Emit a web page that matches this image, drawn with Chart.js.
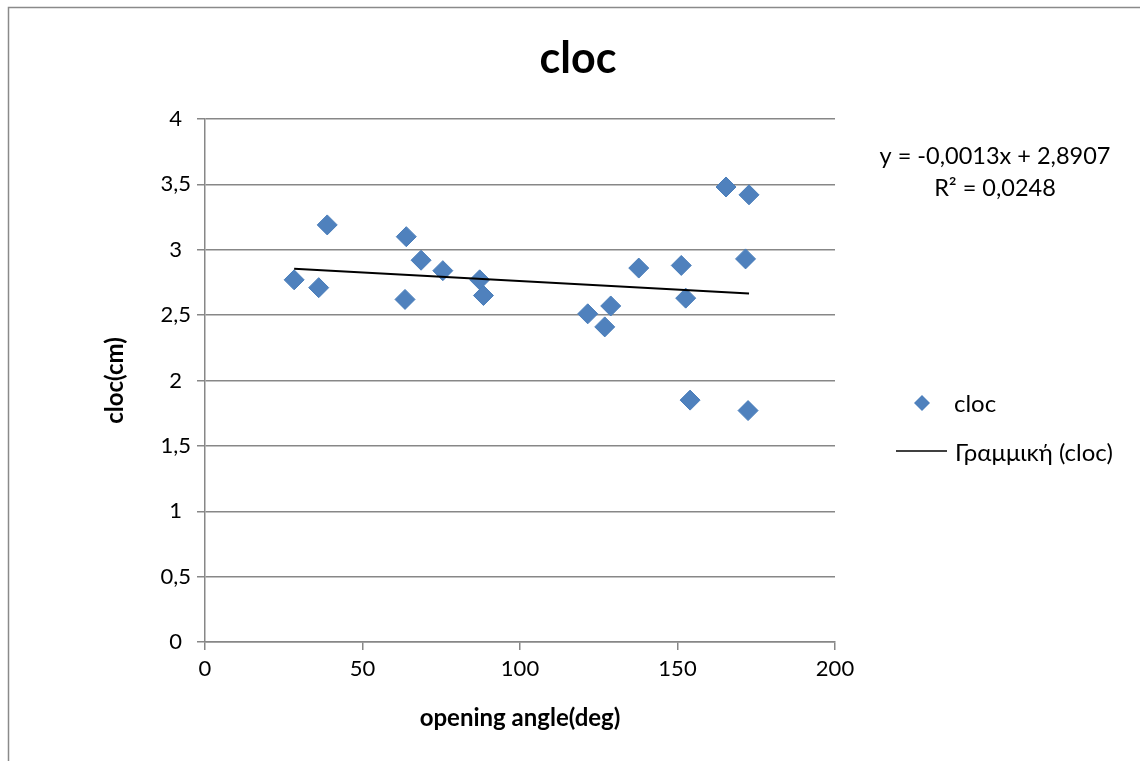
<!DOCTYPE html>
<html>
<head>
<meta charset="utf-8">
<script src="https://cdn.jsdelivr.net/npm/chart.js@4.4.1/dist/chart.umd.min.js"></script>
<style>
  html, body { margin: 0; padding: 0; background: #ffffff; }
  canvas { display: block; }
</style>
</head>
<body>
<canvas id="chart" width="1140" height="761"></canvas>
<script>
// Opening angle (deg) and cloc (cm) for each measurement
const angleDeg = [28.3, 36.1, 38.8, 63.5, 63.9, 68.6, 75.5, 87.2, 88.4, 121.5,
                  126.9, 128.8, 137.7, 151.2, 152.6, 154.0, 165.4, 172.7, 171.6, 172.4];
const clocCm   = [2.77, 2.71, 3.19, 2.62, 3.10, 2.92, 2.84, 2.77, 2.65, 2.51,
                  2.41, 2.57, 2.86, 2.88, 2.63, 1.85, 3.48, 3.42, 2.93, 1.77];

// Linear trend: y = slope * x + intercept
const trendSlope = -0.0013;
const trendIntercept = 2.8907;
const trendR2 = 0.0248;

const xTicks = [0, 50, 100, 150, 200];
const yTicks = [0, 0.5, 1, 1.5, 2, 2.5, 3, 3.5, 4];

const chartTitle = 'cloc';
const xTitle = 'opening angle(deg)';
const yTitle = 'cloc(cm)';
const seriesName = 'cloc';
const trendName = 'Γραμμική (cloc)';

const fmt = v => String(v).replace('.', ',');
const equationText = 'y = ' + fmt(trendSlope) + 'x + ' + fmt(trendIntercept);
const r2Text = 'R² = ' + fmt(trendR2);

const points = angleDeg.map((x, i) => ({ x: x, y: clocCm[i] }));
const xMin = Math.min(...angleDeg);
const xMax = Math.max(...angleDeg);
const trendPoints = [xMin, xMax].map(x => ({ x: x, y: trendSlope * x + trendIntercept }));

const FONT = "Lato, Carlito, 'Open Sans', sans-serif";
const BLUE = '#4F81BD';
const GRID = '#878787';

// Frame, title, trend equation and legend
const decorations = {
  id: 'decorations',
  beforeDraw(chart) {
    const ctx = chart.ctx;
    ctx.save();
    ctx.fillStyle = '#ffffff';
    ctx.fillRect(0, 0, chart.width, chart.height);
    ctx.strokeStyle = '#8a8a8a';
    ctx.lineWidth = 1.5;
    ctx.beginPath();
    ctx.moveTo(8.5, chart.height + 2);
    ctx.lineTo(8.5, 7.5);
    ctx.lineTo(chart.width + 2, 7.5);
    ctx.stroke();
    ctx.restore();
  },
  afterDraw(chart) {
    const ctx = chart.ctx;
    ctx.save();
    ctx.fillStyle = '#000000';
    ctx.textBaseline = 'middle';

    ctx.font = 'bold 43px ' + FONT;
    ctx.textAlign = 'center';
    ctx.fillText(chartTitle, 578, 59);

    ctx.font = '23.5px ' + FONT;
    ctx.fillText(equationText, 995, 156);
    ctx.fillText(r2Text, 995, 188);

    // legend: series marker
    ctx.fillStyle = BLUE;
    ctx.beginPath();
    ctx.moveTo(922, 395);
    ctx.lineTo(930, 403);
    ctx.lineTo(922, 411);
    ctx.lineTo(914, 403);
    ctx.closePath();
    ctx.fill();
    ctx.fillStyle = '#000000';
    ctx.textAlign = 'left';
    ctx.font = '24px ' + FONT;
    ctx.fillText(seriesName, 954, 404);

    // legend: trend line
    ctx.strokeStyle = '#000000';
    ctx.lineWidth = 1.5;
    ctx.beginPath();
    ctx.moveTo(896, 451);
    ctx.lineTo(947, 451);
    ctx.stroke();
    ctx.fillText(trendName, 955, 453);
    ctx.restore();
  }
};

new Chart(document.getElementById('chart'), {
  type: 'scatter',
  data: {
    datasets: [
      {
        label: seriesName,
        data: points,
        pointStyle: 'rectRot',
        pointRadius: 10,
        pointHoverRadius: 10,
        backgroundColor: BLUE,
        borderColor: '#4A7EBB',
        borderWidth: 1,
        order: 1
      },
      {
        label: trendName,
        type: 'line',
        data: trendPoints,
        borderColor: '#000000',
        borderWidth: 2,
        pointRadius: 0,
        fill: false,
        order: 0
      }
    ]
  },
  options: {
    responsive: false,
    animation: false,
    devicePixelRatio: 1,
    layout: { padding: { top: 119, right: 305, left: 0, bottom: 0 } },
    plugins: {
      legend: { display: false },
      title: { display: false },
      tooltip: { enabled: false }
    },
    scales: {
      x: {
        type: 'linear',
        min: 0,
        max: 200,
        afterBuildTicks: s => { s.ticks = xTicks.map(v => ({ value: v })); },
        afterFit: s => { s.height = 761 - 642; },
        grid: { display: true, drawOnChartArea: false, color: GRID, lineWidth: 1.5, tickLength: 8 },
        border: { color: GRID, width: 1.5 },
        ticks: { color: '#000', font: { family: FONT, size: 22 }, padding: 6, maxRotation: 0 },
        title: { display: true, text: xTitle, color: '#000', font: { family: FONT, size: 24, weight: 'bold' }, padding: { top: 0, bottom: 28.5 } }
      },
      y: {
        type: 'linear',
        min: 0,
        max: 4,
        afterBuildTicks: s => { s.ticks = yTicks.map(v => ({ value: v })); },
        afterFit: s => { s.width = 205; },
        grid: { color: GRID, lineWidth: 1.5, tickLength: 8 },
        border: { color: GRID, width: 1.5 },
        ticks: { color: '#000', font: { family: FONT, size: 22 }, padding: 6, crossAlign: 'center', callback: v => fmt(v) },
        title: { display: true, text: yTitle, color: '#000', font: { family: FONT, size: 24, weight: 'bold' }, padding: { top: 100.5, bottom: 0 } }
      }
    }
  },
  plugins: [decorations]
});
</script>
</body>
</html>
